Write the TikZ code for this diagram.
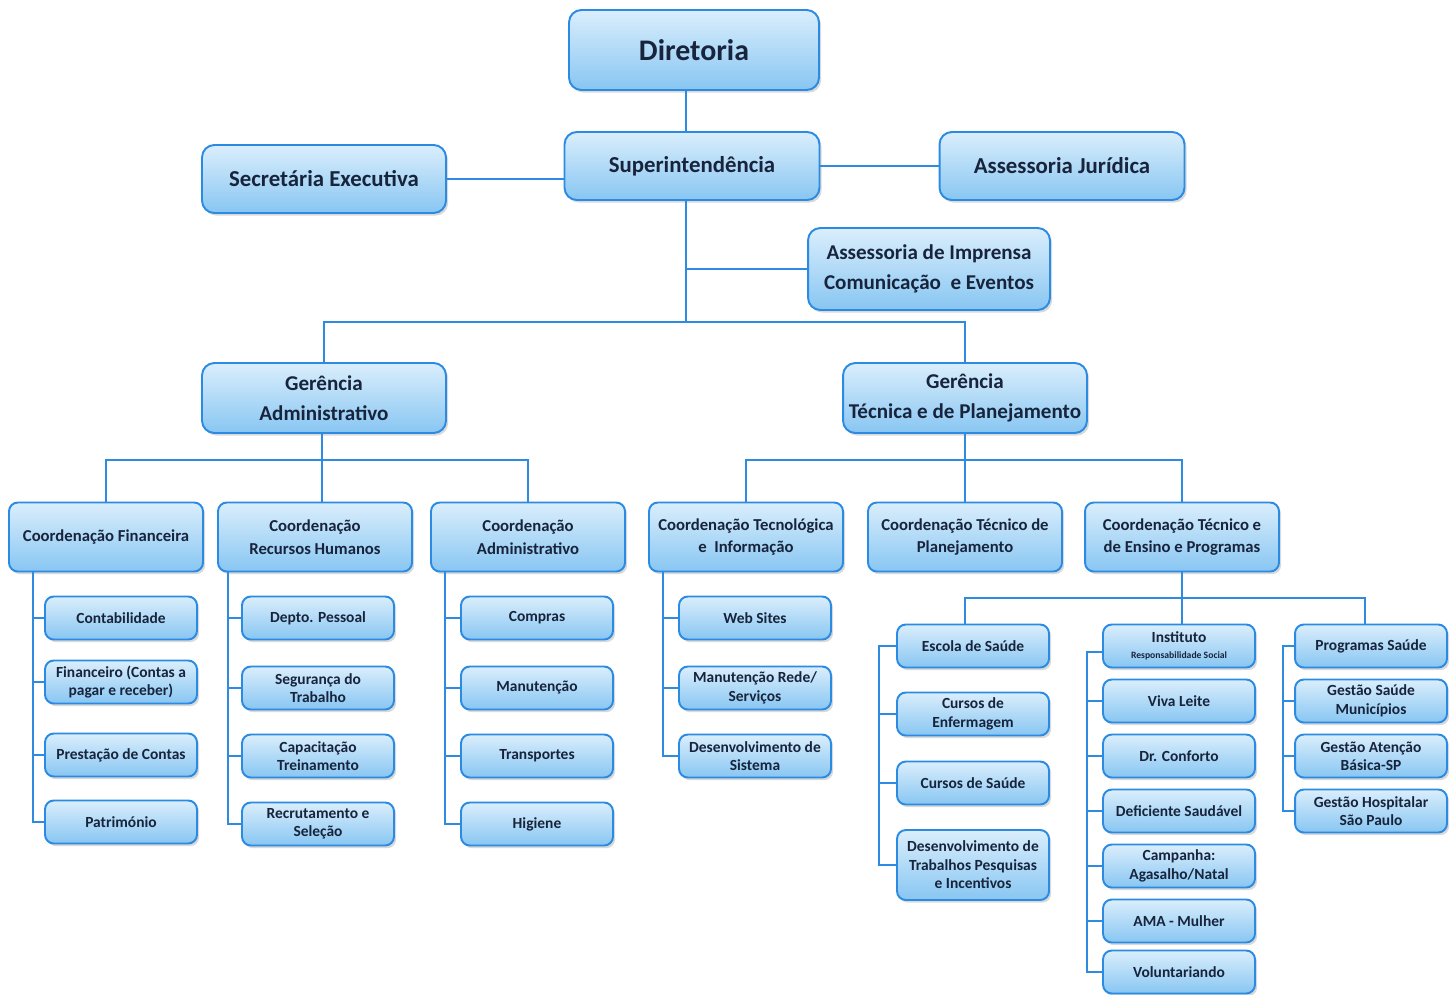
\documentclass[tikz,border=0pt]{standalone}
\usepackage{fontspec}
\setmainfont{Carlito}
\usetikzlibrary{shadows}
\definecolor{boxtop}{HTML}{DAEEFC}
\definecolor{boxbot}{HTML}{88C6F2}
\definecolor{boxline}{HTML}{2B8BE3}
\definecolor{linkcol}{HTML}{2E8BE0}
\definecolor{txtcol}{HTML}{17243C}
\tikzset{
  box/.style={rectangle, rounded corners=5pt, draw=boxline, line width=1.1pt,
    top color=boxtop, bottom color=boxbot, text=txtcol, align=center, inner sep=1pt,
    drop shadow={shadow xshift=1.2pt, shadow yshift=-1.5pt, opacity=0.3}},
  topbox/.style={box, rounded corners=7pt, minimum height=1.36cm, font=\bfseries\fontsize{13}{15}\selectfont},
  gerbox/.style={box, rounded corners=7pt, minimum width=4.88cm, minimum height=1.4cm, font=\bfseries\fontsize{12}{17}\selectfont},
  coordbox/.style={box, minimum width=3.88cm, minimum height=1.38cm, font=\bfseries\fontsize{9.5}{13}\selectfont},
  itembox/.style={box, minimum width=3.04cm, minimum height=0.86cm, font=\bfseries\fontsize{8.8}{10.5}\selectfont},
  conn/.style={draw=linkcol, line width=1.2pt}
}
\begin{document}
\begin{tikzpicture}[x=0.02cm, y=-0.02cm]
\useasboundingbox (0,0) rectangle (1453,994);
% direction
\node[topbox, minimum width=5cm, minimum height=1.6cm, font=\bfseries\fontsize{17}{20}\selectfont] (dir) at (694,50) {Diretoria};
\node[topbox, minimum width=5.1cm] (sup) at (692,166) {Superintendência};
\node[topbox, minimum width=4.88cm] (sec) at (324,179) {Secretária Executiva};
\node[topbox, minimum width=4.9cm] (jur) at (1062,166) {Assessoria Jurídica};
\node[gerbox, minimum width=4.84cm, minimum height=1.64cm] (imp) at (929,269) {Assessoria de Imprensa\\Comunicação\ \ e Eventos};
\node[gerbox] (gadm) at (324,398) {Gerência\\Administrativo};
\node[gerbox] (gtec) at (965,398) {Gerência\\Técnica e de Planejamento};
\coordinate (s1) at (686,322);
\draw[conn] (s1 |- dir.south) -- (s1 |- sup.north);
\draw[conn] (sec.east) -- (sec.east -| sup.west);
\draw[conn] (sup.east) -- (jur.west);
\draw[conn] (s1 |- sup.south) -- (s1);
\draw[conn] (s1 |- imp.west) -- (imp.west);
\draw[conn] (gadm.north) |- (s1) -| (gtec.north);

% coordenacoes
\node[coordbox] (cfin) at (106,537) {Coordenação Financeira};
\node[coordbox] (crh) at (315,537) {Coordenação\\Recursos Humanos};
\node[coordbox] (cadm) at (528,537) {Coordenação\\Administrativo};
\node[coordbox] (cti) at (746,537) {Coordenação Tecnológica\\e\ \ Informação};
\node[coordbox] (cpl) at (965,537) {Coordenação Técnico de\\Planejamento};
\node[coordbox] (cens) at (1182,537) {Coordenação Técnico e\\de Ensino e Programas};
\coordinate (s2) at (322,460);
\draw[conn] (s2 |- gadm.south) -- (s2);
\draw[conn] (cfin.north) |- (s2) -| (cadm.north);
\draw[conn] (s2) -- (s2 |- crh.north);
\coordinate (s3) at (965,460);
\draw[conn] (gtec.south) -- (s3);
\draw[conn] (cti.north) |- (s3) -| (cens.north);
\draw[conn] (s3) -- (cpl.north);

% financeira
\node[itembox] (fin1) at (121,618) {Contabilidade};
\node[itembox] (fin2) at (121,682) {Financeiro (Contas a\\pagar e receber)};
\node[itembox] (fin3) at (121,755) {Prestação de Contas};
\node[itembox] (fin4) at (121,822) {Património};
\coordinate (tfin) at (33,571);
\draw[conn] (tfin) |- (fin4.west);
\draw[conn] (tfin |- fin1.west) -- (fin1.west);
\draw[conn] (tfin |- fin2.west) -- (fin2.west);
\draw[conn] (tfin |- fin3.west) -- (fin3.west);

% recursos humanos
\node[itembox] (rh1) at (318,618) {Depto. Pessoal};
\node[itembox] (rh2) at (318,688) {Segurança do\\Trabalho};
\node[itembox] (rh3) at (318,756) {Capacitação\\Treinamento};
\node[itembox] (rh4) at (318,824) {Recrutamento e\\Seleção};
\coordinate (trh) at (228,571);
\draw[conn] (trh) |- (rh4.west);
\draw[conn] (trh |- rh1.west) -- (rh1.west);
\draw[conn] (trh |- rh2.west) -- (rh2.west);
\draw[conn] (trh |- rh3.west) -- (rh3.west);

% administrativo
\node[itembox] (adm1) at (537,618) {Compras};
\node[itembox] (adm2) at (537,688) {Manutenção};
\node[itembox] (adm3) at (537,756) {Transportes};
\node[itembox] (adm4) at (537,824) {Higiene};
\coordinate (tadm) at (445,571);
\draw[conn] (tadm) |- (adm4.west);
\draw[conn] (tadm |- adm1.west) -- (adm1.west);
\draw[conn] (tadm |- adm2.west) -- (adm2.west);
\draw[conn] (tadm |- adm3.west) -- (adm3.west);

% tecnologia
\node[itembox] (ti1) at (755,618) {Web Sites};
\node[itembox] (ti2) at (755,688) {Manutenção Rede/\\Serviços};
\node[itembox] (ti3) at (755,756) {Desenvolvimento de\\Sistema};
\coordinate (tti) at (663,571);
\draw[conn] (tti) |- (ti3.west);
\draw[conn] (tti |- ti1.west) -- (ti1.west);
\draw[conn] (tti |- ti2.west) -- (ti2.west);

% ensino e programas
\node[itembox] (esc0) at (973,646) {Escola de Saúde};
\node[itembox, font=\bfseries\fontsize{8.8}{9}\selectfont] (ins0) at (1179,646) {Instituto\\{\fontsize{5.5}{6}\selectfont Responsabilidade Social}};
\node[itembox] (prg0) at (1371,646) {Programas Saúde};
\coordinate (s4) at (1182,598);
\coordinate (s4l) at (965,598);
\coordinate (s4r) at (1365,598);
\draw[conn] (cens.south) -- (s4);
\draw[conn] (s4l |- esc0.north) -- (s4l) -- (s4r) -- (s4r |- prg0.north);
\draw[conn] (s4) -- (s4 |- ins0.north);

\node[itembox] (esc1) at (973,714) {Cursos de\\Enfermagem};
\node[itembox] (esc2) at (973,783) {Cursos de Saúde};
\node[itembox, minimum height=1.4cm] (esc3) at (973,865) {Desenvolvimento de\\Trabalhos Pesquisas\\e Incentivos};
\coordinate (tesc) at (879,640);
\draw[conn] (esc0.west) -- (tesc |- esc0.west) |- (esc3.west);
\draw[conn] (tesc |- esc1.west) -- (esc1.west);
\draw[conn] (tesc |- esc2.west) -- (esc2.west);

\node[itembox] (ins1) at (1179,701) {Viva Leite};
\node[itembox] (ins2) at (1179,756) {Dr. Conforto};
\node[itembox] (ins3) at (1179,811) {Deficiente Saudável};
\node[itembox] (ins4) at (1179,866) {Campanha:\\Agasalho/Natal};
\node[itembox] (ins5) at (1179,921) {AMA - Mulher};
\node[itembox] (ins6) at (1179,972) {Voluntariando};
\coordinate (tins) at (1087,652);
\draw[conn] (ins0.west |- tins) -- (tins) |- (ins6.west);
\draw[conn] (tins |- ins1.west) -- (ins1.west);
\draw[conn] (tins |- ins2.west) -- (ins2.west);
\draw[conn] (tins |- ins3.west) -- (ins3.west);
\draw[conn] (tins |- ins4.west) -- (ins4.west);
\draw[conn] (tins |- ins5.west) -- (ins5.west);

\node[itembox] (prg1) at (1371,701) {Gestão Saúde\\Municípios};
\node[itembox] (prg2) at (1371,756) {Gestão Atenção\\Básica-SP};
\node[itembox] (prg3) at (1371,811) {Gestão Hospitalar\\São Paulo};
\coordinate (tprg) at (1283,646);
\draw[conn] (prg0.west) -- (tprg) |- (prg3.west);
\draw[conn] (tprg |- prg1.west) -- (prg1.west);
\draw[conn] (tprg |- prg2.west) -- (prg2.west);
\end{tikzpicture}
\end{document}
